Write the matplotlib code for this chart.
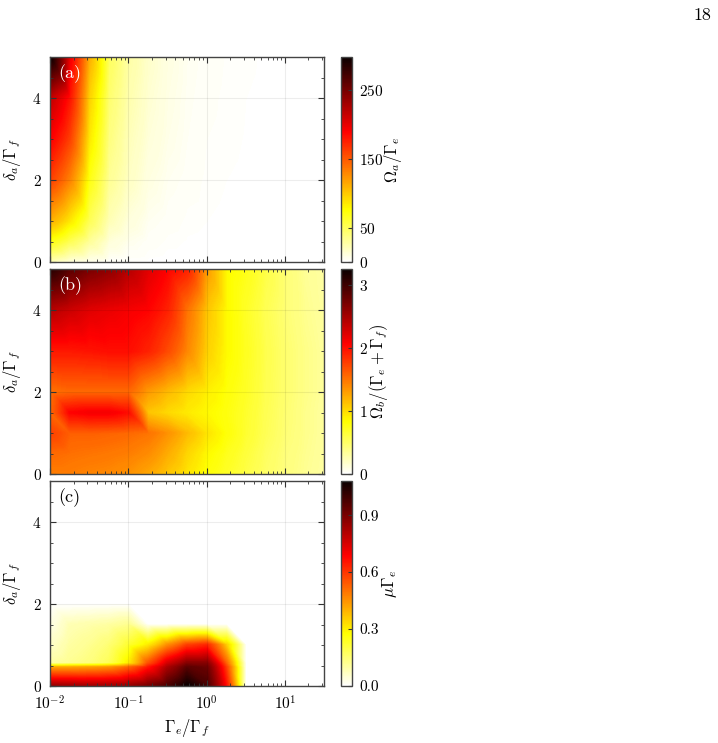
import numpy as np
import matplotlib
matplotlib.use("Agg")
import matplotlib.pyplot as plt
import matplotlib.tri as mtri
from matplotlib.colors import Normalize
from matplotlib.cm import ScalarMappable
from matplotlib.ticker import MultipleLocator, LogLocator, NullFormatter

plt.rcParams['font.family'] = 'serif'
plt.rcParams['font.serif'] = ['cmr10']
plt.rcParams['mathtext.fontset'] = 'cm'
plt.rcParams['axes.formatter.use_mathtext'] = True

# x nodes: Gamma_e / Gamma_f (quarter decades)
gam = [0.01, 0.0178, 0.0316, 0.0562, 0.1, 0.178, 0.316, 0.562, 1.0,
       1.78, 3.16, 5.62, 10.0, 17.8, 31.6]

# panel (a): Omega_a / Gamma_e
ya = [0, 0.5, 1, 2, 3, 4, 5]
omega_a = [
    [20, 10, 5, 2, 1, 0.5, 0, 0, 0, 0, 0, 0, 0, 0, 0],
    [70, 50, 30, 12, 6, 3, 1.5, 0.8, 0.5, 0.3, 0.2, 0.1, 0.1, 0.1, 0.1],
    [110, 85, 50, 22, 11, 5, 3, 1.5, 1, 0.6, 0.4, 0.3, 0.2, 0.2, 0.1],
    [160, 130, 70, 32, 18, 9, 5, 3, 1.5, 1, 0.7, 0.5, 0.4, 0.3, 0.2],
    [190, 160, 85, 38, 21, 12, 7, 4, 2, 1.3, 0.9, 0.6, 0.5, 0.4, 0.3],
    [215, 180, 95, 43, 24, 14, 8, 4.5, 2.5, 1.5, 1, 0.7, 0.5, 0.4, 0.3],
    [298, 195, 110, 48, 27, 16, 9, 5, 3, 1.8, 1.2, 0.8, 0.6, 0.5, 0.4],
]

# panel (b): Omega_b / (Gamma_e + Gamma_f)
yb = [0, 0.5, 1, 1.5, 2, 3, 4, 5]
omega_b = [
    [1.45, 1.45, 1.42, 1.40, 1.35, 1.25, 1.10, 0.95, 0.80, 0.70, 0.60, 0.50, 0.42, 0.36, 0.30],
    [1.55, 1.52, 1.50, 1.48, 1.45, 1.38, 1.22, 1.02, 0.85, 0.74, 0.63, 0.52, 0.43, 0.37, 0.31],
    [1.75, 1.60, 1.60, 1.58, 1.55, 1.50, 1.35, 1.15, 0.95, 0.80, 0.67, 0.55, 0.45, 0.38, 0.32],
    [1.55, 2.05, 2.10, 2.10, 2.00, 1.10, 1.00, 0.92, 0.85, 0.78, 0.68, 0.56, 0.46, 0.38, 0.32],
    [1.50, 1.55, 1.55, 1.55, 1.55, 1.30, 1.15, 1.00, 0.90, 0.80, 0.70, 0.57, 0.47, 0.39, 0.33],
    [1.95, 1.95, 1.97, 2.00, 2.00, 1.90, 1.70, 1.40, 1.05, 0.85, 0.72, 0.58, 0.47, 0.39, 0.33],
    [2.40, 2.30, 2.20, 2.15, 2.10, 2.05, 1.90, 1.50, 1.10, 0.85, 0.70, 0.56, 0.45, 0.37, 0.31],
    [3.10, 2.85, 2.70, 2.60, 2.40, 2.20, 2.05, 1.90, 1.30, 0.85, 0.75, 0.60, 0.45, 0.35, 0.30],
]

# panel (c): mu * Gamma_e
yc = [0, 0.45, 0.55, 1.0, 1.5, 2.0, 5.0]
mu = [
    [0.85, 0.84, 0.83, 0.83, 0.85, 0.90, 0.97, 1.08, 0.98, 0.66, 0, 0, 0, 0, 0],
    [0.42, 0.42, 0.43, 0.45, 0.52, 0.65, 0.82, 0.95, 0.92, 0.58, 0, 0, 0, 0, 0],
    [0.10, 0.12, 0.14, 0.18, 0.30, 0.55, 0.75, 0.88, 0.88, 0.52, 0, 0, 0, 0, 0],
    [0.06, 0.10, 0.12, 0.15, 0.22, 0.30, 0.45, 0.58, 0.62, 0.35, 0, 0, 0, 0, 0],
    [0.03, 0.08, 0.09, 0.10, 0.12, 0, 0, 0, 0, 0, 0, 0, 0, 0, 0],
    [0, 0, 0, 0, 0, 0, 0, 0, 0, 0, 0, 0, 0, 0, 0],
    [0, 0, 0, 0, 0, 0, 0, 0, 0, 0, 0, 0, 0, 0, 0],
]

panels = [
    (ya, omega_a, 298, [0, 50, 150, 250], None, r'$\Omega_a/\Gamma_e$', '(a)', 'white', 4.75),
    (yb, omega_b, 3.25, [0, 1, 2, 3], None, r'$\Omega_b/(\Gamma_e+\Gamma_f)$', '(b)', 'white', 3.45),
    (yc, mu, 1.08, [0, 0.3, 0.6, 0.9], ['0.0', '0.3', '0.6', '0.9'], r'$\mu\Gamma_e$', '(c)', 'black', 4.4),
]


def grid_triangles(nx, ny):
    tris = []
    for j in range(ny - 1):
        for i in range(nx - 1):
            a = j * nx + i
            b = a + 1
            c = a + nx
            d = c + 1
            tris.append([a, b, c])
            tris.append([b, d, c])
    return tris


W, H = 718, 743
fig = plt.figure(figsize=(W / 100, H / 100), dpi=100)
tops = [57, 269, 481]
ph = 205

for k, (yy, vals, vmax, cticks, clabels, clab, letter, lcol, lx) in enumerate(panels):
    top = tops[k]
    ax = fig.add_axes([50 / W, 1 - (top + ph) / H, 274 / W, ph / H])
    X, Y = np.meshgrid(gam, yy)
    Z = np.array(vals, dtype=float)
    tri = mtri.Triangulation(X.ravel(), Y.ravel(), grid_triangles(len(gam), len(yy)))
    cs = ax.tricontourf(tri, Z.ravel(), levels=np.linspace(0, vmax, 300),
                        cmap='hot_r', vmin=0, vmax=vmax)
    cs.set_edgecolor('face')
    cs.set_linewidth(0.4)
    ax.set_xscale('log')
    ax.set_xlim(0.01, 31.6)
    ax.set_ylim(0, 5)
    ax.yaxis.set_major_locator(MultipleLocator(2))
    ax.yaxis.set_minor_locator(MultipleLocator(0.5))
    ax.xaxis.set_major_locator(LogLocator(base=10, numticks=10))
    ax.xaxis.set_minor_locator(LogLocator(base=10, subs=np.arange(2, 10), numticks=20))
    ax.xaxis.set_minor_formatter(NullFormatter())
    ax.tick_params(which='both', direction='in', top=True, right=True,
                   color='#333333', labelsize=11)
    ax.tick_params(which='major', length=4, width=0.8)
    ax.tick_params(which='minor', length=2.5, width=0.6)
    ax.tick_params(axis='y', pad=6)
    ax.tick_params(axis='x', pad=6)
    ax.grid(True, which='major', color='k', alpha=0.07, lw=0.8)
    for s in ax.spines.values():
        s.set_color('#444444')
        s.set_linewidth(1.0)
        s.set_zorder(3)
    if k < 2:
        ax.set_xticklabels([])
    else:
        ax.set_xlabel(r'$\Gamma_e/\Gamma_f$', fontsize=12)
        ax.xaxis.set_label_coords(0.5, -0.15)
    ax.set_ylabel(r'$\delta_a/\Gamma_f$', fontsize=12)
    ax.yaxis.set_label_coords(-0.10, 0.5)
    ax.text(0.03, 0.965, letter, transform=ax.transAxes, ha='left', va='top',
            fontsize=13, color=lcol)

    cax = fig.add_axes([341 / W, 1 - (top + ph) / H, 11 / W, ph / H])
    sm = ScalarMappable(norm=Normalize(0, vmax), cmap='hot_r')
    cb = fig.colorbar(sm, cax=cax, ticks=cticks)
    if clabels:
        cb.set_ticklabels(clabels)
    cb.outline.set_edgecolor('#444444')
    cb.outline.set_linewidth(1.0)
    cax.tick_params(direction='in', length=3, width=0.8, color='#333333',
                    labelsize=11, pad=5)
    cax.text(lx, 0.5, clab, transform=cax.transAxes, rotation=90,
             ha='center', va='center', fontsize=12)

fig.text(702 / W, 1 - 15 / H, '18', ha='center', va='center', fontsize=13)

fig.savefig('out.png', dpi=100)
